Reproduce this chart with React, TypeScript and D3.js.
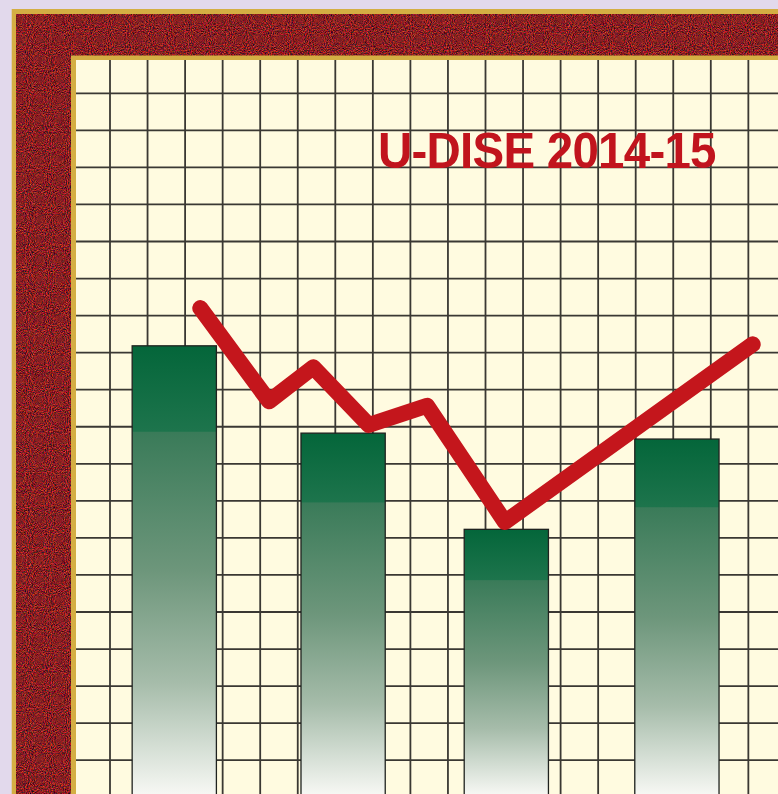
import React from "react";
import * as d3 from "d3";

// Chart data (abstract units on a 0–100 scale)
const barStarts = [8.0, 32.05, 55.3, 79.6];
const barValues = [60.7, 48.9, 35.9, 48.1];
const barWidthUnits = 12.0;
const lineX = [17.7, 27.5, 33.8, 41.7, 50.0, 61.1, 96.4];
const lineY = [65.8, 53.2, 57.8, 50.0, 52.6, 36.9, 60.9];
const title = "U-DISE 2014-15";

const W = 778;
const H = 794;

export default function App() {
  const x = d3.scaleLinear().domain([0, 100]).range([76, 778]);
  const y = d3.scaleLinear().domain([0, 100]).range([795, 55]);

  const vLines = d3.range(0, 19).map((k) => 110 + 37.55 * k);
  const hLines = d3.range(0, 20).map((k) => 93.3 + 37.05 * k);

  const lineGen = d3
    .line<number>()
    .x((_, i) => x(lineX[i]))
    .y((d) => y(d));

  return (
    <svg
      width={W}
      height={H}
      style={{ position: "fixed", left: 0, top: 0, display: "block" }}
    >
      <defs>
        <filter
          id="noise"
          x="0"
          y="0"
          width="100%"
          height="100%"
          colorInterpolationFilters="sRGB"
        >
          <feTurbulence
            type="fractalNoise"
            baseFrequency="0.95"
            numOctaves={2}
            seed={3}
            result="n"
          />
          <feColorMatrix
            in="n"
            type="matrix"
            values="1.3 0 0 0 -0.12  0.15 0.5 0 0 -0.2  0 0 0.45 0 -0.09  0 0 0 0 1"
          />
        </filter>
        <linearGradient id="barGrad" x1="0" y1="0" x2="0" y2="1">
          <stop offset="0" stopColor="#04663a" />
          <stop offset="0.19" stopColor="#1d744c" />
          <stop offset="0.193" stopColor="#3a7b59" />
          <stop offset="0.5" stopColor="#6d967b" />
          <stop offset="0.75" stopColor="#a6bcaa" />
          <stop offset="1" stopColor="#f7f8f4" />
        </linearGradient>
      </defs>
      <rect x={0} y={0} width={W} height={H} fill="#e2d9ec" />
      <rect x={11.7} y={9} width={W} height={H} fill="#d4ae43" />
      <rect x={16.7} y={14} width={W} height={H} fill="#8a1c1f" />
      <rect
        x={16.7}
        y={14}
        width={W - 16.7}
        height={H - 14}
        filter="url(#noise)"
      />
      <rect x={71} y={55.5} width={W} height={H} fill="#d4ae43" />
      <rect x={76} y={60} width={W} height={H} fill="#fffbe0" />

      <g stroke="#3a3833" strokeWidth={1.8}>
        {vLines.map((vx, i) => (
          <line key={"v" + i} x1={vx} x2={vx} y1={60} y2={H} />
        ))}
        {hLines.map((hy, i) => (
          <line key={"h" + i} x1={76} x2={W} y1={hy} y2={hy} />
        ))}
      </g>

      <g transform="translate(378,167.7) scale(0.95,1)">
        <text
          x={0}
          y={0}
          fontFamily="'Liberation Sans', Arial, sans-serif"
          fontWeight="bold"
          fontSize={50}
          fill="#c1141d"
          letterSpacing={-0.8}
        >
          {title}
        </text>
      </g>

      {barValues.map((v, i) => (
        <rect
          key={"b" + i}
          x={x(barStarts[i])}
          y={y(v)}
          width={x(barWidthUnits) - x(0)}
          height={y(0) - y(v)}
          fill="url(#barGrad)"
          stroke="#1f221f"
          strokeWidth={1.3}
        />
      ))}

      <path
        d={lineGen(lineY) || ""}
        fill="none"
        stroke="#c4161c"
        strokeWidth={16}
        strokeLinecap="round"
        strokeLinejoin="round"
      />
    </svg>
  );
}
